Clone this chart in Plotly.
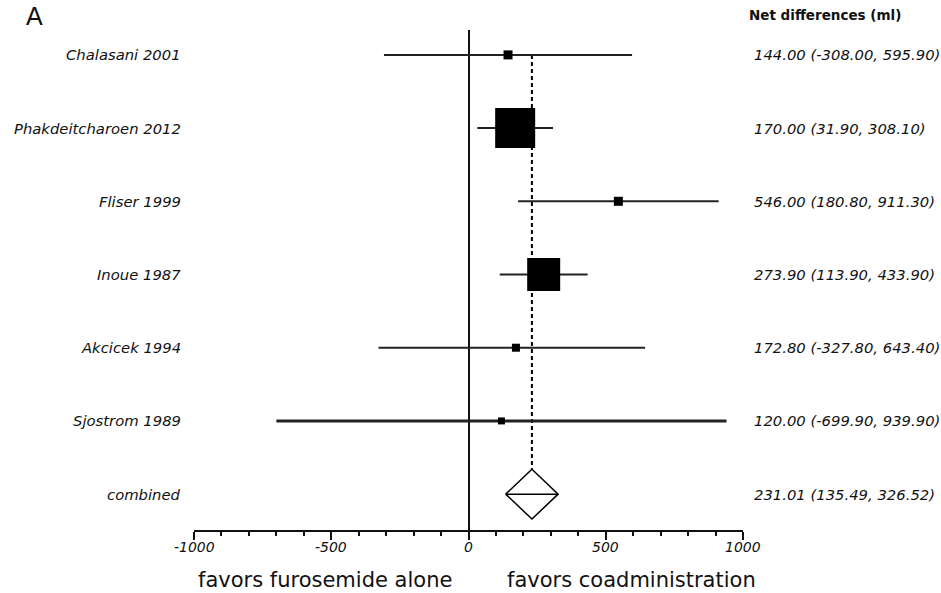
import plotly.graph_objects as go

# Study-level net differences in urine output (ml) with 95% CI
studies = ["Chalasani 2001", "Phakdeitcharoen 2012", "Fliser 1999", "Inoue 1987",
           "Akcicek 1994", "Sjostrom 1989"]
estimates = [144.00, 170.00, 546.00, 273.90, 172.80, 120.00]
ci_low = [-308.00, 31.90, 180.80, 113.90, -327.80, -699.90]
ci_high = [595.90, 308.10, 911.30, 433.90, 643.40, 939.90]

# Pooled estimate
combined_label = "combined"
combined_est = 231.01
combined_low = 135.49
combined_high = 326.52

# Axis ticks
major_ticks = [-1000, -500, 0, 500, 1000]
major_tick_text = ["-1000", "-500", "0", "500", "1000"]

# Styling: marker size (px) reflects study weight, line width per study
marker_px = [9, 40, 9, 33, 8, 7]
line_px = [2, 2, 2, 2, 2, 3]
diamond_half = 0.34

LABEL_FONT = dict(family="DejaVu Sans", size=14.8, color="#111")

fig = go.Figure()

combined_row = len(studies)

# Dashed reference line at the pooled estimate
fig.add_trace(go.Scatter(
    x=[combined_est, combined_est], y=[0, combined_row - diamond_half],
    mode="lines", line=dict(color="black", width=2, dash="4px,3px"),
    hoverinfo="skip", showlegend=False))

for i, name in enumerate(studies):
    fig.add_trace(go.Scatter(
        x=[estimates[i]], y=[i], mode="markers",
        marker=dict(symbol="square", size=marker_px[i], color="black",
                    line=dict(width=0)),
        error_x=dict(type="data", symmetric=False,
                     array=[ci_high[i] - estimates[i]],
                     arrayminus=[estimates[i] - ci_low[i]],
                     width=0, thickness=line_px[i], color="#222"),
        hoverinfo="skip", showlegend=False))

# Pooled diamond
fig.add_trace(go.Scatter(
    x=[combined_low, combined_est, combined_high, combined_est, combined_low],
    y=[combined_row, combined_row - diamond_half, combined_row,
       combined_row + diamond_half, combined_row],
    mode="lines", fill="toself", fillcolor="white",
    line=dict(color="black", width=1.5), hoverinfo="skip", showlegend=False))
fig.add_trace(go.Scatter(
    x=[combined_low, combined_high], y=[combined_row, combined_row],
    mode="lines", line=dict(color="black", width=1.5),
    hoverinfo="skip", showlegend=False))

# Row labels (left) and effect-size text (right)
all_names = studies + [combined_label]
all_est = estimates + [combined_est]
all_lo = ci_low + [combined_low]
all_hi = ci_high + [combined_high]
for i, name in enumerate(all_names):
    fig.add_annotation(text=f"<i>{name}</i>", xref="paper", x=0, xshift=-11,
                       xanchor="right", yref="y", y=i, yanchor="middle",
                       showarrow=False, font=LABEL_FONT)
    fig.add_annotation(text=f"<i>{all_est[i]:.2f} ({all_lo[i]:.2f}, {all_hi[i]:.2f})</i>",
                       xref="paper", x=1, xshift=9, xanchor="left",
                       yref="y", y=i, yanchor="middle", showarrow=False, font=LABEL_FONT)

# Italic tick labels placed under the major ticks
for v, t in zip(major_ticks, major_tick_text):
    fig.add_annotation(text=f"<i>{t}</i>", xref="x", x=v, xanchor="center",
                       yref="paper", y=0, yshift=-17, yanchor="middle",
                       showarrow=False,
                       font=dict(family="DejaVu Sans", size=14, color="#111"))

fig.add_annotation(text="<b>Net differences (ml)</b>", xref="paper", x=1, xshift=4,
                   xanchor="left", yref="paper", y=1.03, yanchor="middle",
                   showarrow=False, font=dict(family="DejaVu Sans", size=13.5, color="#111"))
fig.add_annotation(text="A", xref="paper", x=0, xshift=-160, xanchor="center",
                   yref="paper", y=1.06, yanchor="top", showarrow=False,
                   font=dict(family="Liberation Sans, Arial", size=25, color="#111"))

TITLE_FONT = dict(family="DejaVu Sans", size=21, color="#111")
fig.add_annotation(text="favors furosemide alone", xref="paper", x=(325 - 194) / 549,
                   xanchor="center", yref="paper", y=-0.1, yanchor="middle",
                   showarrow=False, font=TITLE_FONT)
fig.add_annotation(text="favors coadministration", xref="paper", x=(631 - 194) / 549,
                   xanchor="center", yref="paper", y=-0.1, yanchor="middle",
                   showarrow=False, font=TITLE_FONT)

fig.update_xaxes(
    range=[-1000, 1000], tickvals=major_ticks, showticklabels=False,
    ticks="outside", ticklen=8, tickwidth=2, tickcolor="#111",
    minor=dict(dtick=100, ticks="outside", ticklen=4, tickwidth=2, tickcolor="#111"),
    showline=True, linecolor="#111", linewidth=2, showgrid=False,
    zeroline=True, zerolinecolor="#111", zerolinewidth=2,
    fixedrange=True)
fig.update_yaxes(range=[6.49, -0.34], visible=False, showgrid=False, zeroline=False,
                 fixedrange=True)

fig.update_layout(
    width=941, height=593, autosize=False,
    margin=dict(l=194, r=198, t=30, b=63),
    paper_bgcolor="white", plot_bgcolor="white", showlegend=False)

fig.write_html("out.html")
